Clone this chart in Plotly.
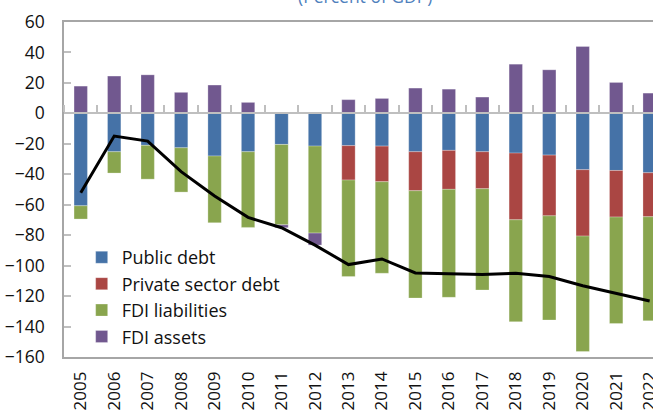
import plotly.graph_objects as go

years = [str(y) for y in range(2005, 2023)]

public_debt = [-60.7, -25.2, -21.0, -22.6, -28.0, -25.2, -20.4, -21.5, -21.2,
               -21.5, -25.2, -24.3, -25.2, -26.1, -27.4, -37.0, -37.5, -39.0]
private_debt = [0, 0, 0, 0, 0, 0, 0, 0, -22.6,
                -23.4, -25.6, -25.6, -24.3, -43.8, -39.9, -43.6, -30.6, -28.9]
fdi_liabilities = [-8.7, -14.0, -22.2, -29.1, -43.8, -49.7, -52.8, -57.1, -63.4,
                   -60.1, -70.5, -70.9, -66.5, -66.9, -68.4, -75.8, -69.9, -68.3]
fdi_assets = [17.9, 24.5, 25.3, 13.8, 18.6, 7.2, -1.9, -7.9, 9.0,
              9.8, 16.6, 15.9, 10.7, 32.3, 28.6, 43.9, 20.3, 13.3]
net_position = [-52.1, -14.9, -18.2, -38.3, -54.3, -68.3, -75.1, -86.5, -99.3,
                -95.6, -104.8, -105.5, -105.9, -105.0, -107.2, -113.2, -118.2, -123.2]

series = [
    ("Public debt", public_debt, "#4572A7"),
    ("Private sector debt", private_debt, "#AA4643"),
    ("FDI liabilities", fdi_liabilities, "#89A54E"),
    ("FDI assets", fdi_assets, "#71588F"),
]

FONT = "Open Sans"
AXIS_GREY = "#a6a6a6"
TICK_GREY = "#bfbfbf"

fig = go.Figure()
for name, vals, color in series:
    fig.add_trace(go.Bar(
        x=years, y=vals, name=name,
        marker=dict(color=color, line=dict(color="rgba(255,255,255,0.45)", width=0.6)),
        width=0.4,
    ))

# Net position drawn on the overlaid axis so it sits above the bars
fig.add_trace(go.Scatter(
    x=years, y=net_position, mode="lines", showlegend=False,
    line=dict(color="black", width=3), xaxis="x2", yaxis="y",
))

x_range = [-0.5, 17.1]

fig.update_layout(
    width=653, height=411,
    margin=dict(l=64, r=0, t=22, b=54),
    paper_bgcolor="white", plot_bgcolor="white",
    barmode="relative", bargap=0.6,
    font=dict(family=FONT, size=17.5, color="#111111"),
    showlegend=True,
    legend=dict(
        x=0.03, y=0.352, xanchor="left", yanchor="top",
        bgcolor="rgba(0,0,0,0)", font=dict(size=18, color="#111111"),
        traceorder="normal", itemwidth=30, tracegroupgap=0,
    ),
    xaxis=dict(
        type="category", range=x_range, automargin=False,
        showline=True, linecolor=AXIS_GREY, linewidth=1.5, mirror=True,
        ticks="", showgrid=False, zeroline=False,
        tickangle=-90, ticklabelstandoff=6,
        tickfont=dict(size=17),
    ),
    xaxis2=dict(
        type="category", range=x_range, overlaying="x", side="top",
        anchor="free", position=160 / 220, automargin=False,
        showline=True, linecolor=TICK_GREY, linewidth=2,
        ticks="outside", ticklen=7, tickwidth=1.5, tickcolor=TICK_GREY,
        tickson="boundaries", showticklabels=False,
        showgrid=False, zeroline=False,
    ),
    yaxis=dict(
        range=[-160, 60], dtick=20, tick0=0, automargin=False,
        showline=True, linecolor=AXIS_GREY, linewidth=1.5, mirror=False,
        ticks="inside", ticklen=7, tickwidth=1.5, tickcolor=TICK_GREY,
        showgrid=False, zeroline=False,
        ticklabelstandoff=14,
        tickfont=dict(size=17.5),
    ),
    annotations=[dict(
        text="(Percent of GDP)", xref="paper", yref="paper",
        x=(364.5 - 64) / 589, y=1.078, xanchor="center", yanchor="middle",
        showarrow=False, font=dict(size=17.5, color="#4F81BD"),
    )],
)

fig.write_html("out.html")
